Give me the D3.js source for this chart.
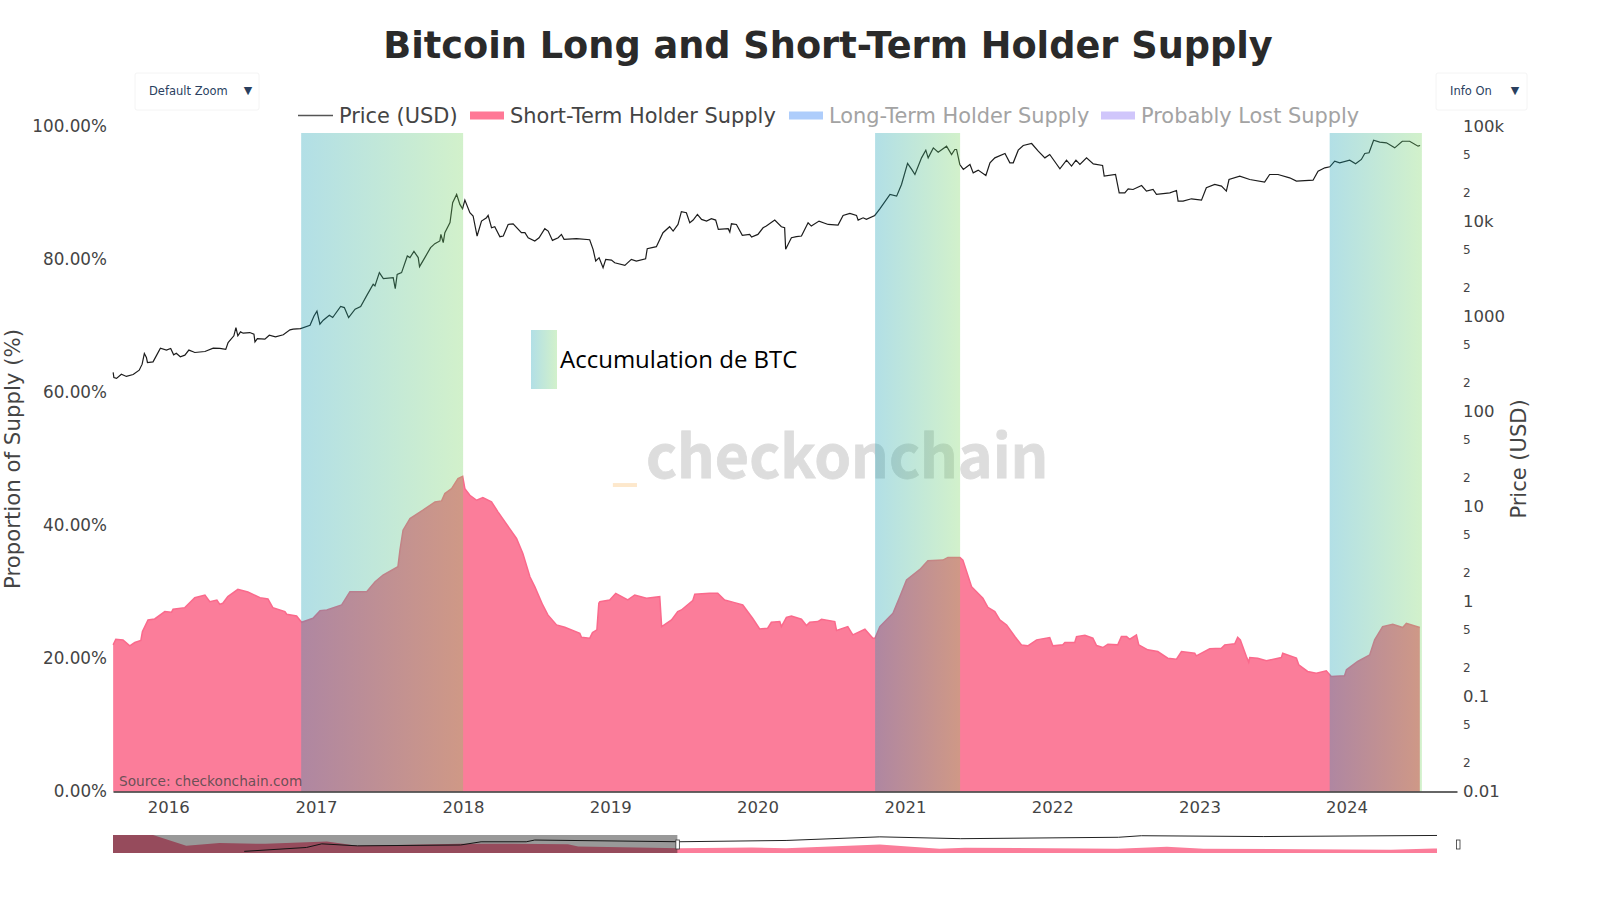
<!DOCTYPE html>
<html>

<head>
    <meta charset="UTF-8" />
    <script src="https://d3js.org/d3.v7.min.js"></script>
    <style>
        body { margin: 0; background: #fff; }
        text { font-family: "DejaVu Sans", sans-serif; }
    </style>
</head>

<body>
    <script>
        const pctTicks = [0, 20, 40, 60, 80, 100];
        const yearTicks = [2016, 2017, 2018, 2019, 2020, 2021, 2022, 2023, 2024];
        const priceTicks = [0.01, 0.1, 1, 10, 100, 1000, 10000, 100000];
        const priceLabels = ["0.01", "0.1", "1", "10", "100", "1000", "10k", "100k"];
        const priceMinor = [0.02, 0.05, 0.2, 0.5, 2, 5, 20, 50, 200, 500, 2000, 5000, 20000, 50000];

        // accumulation periods, as decimal years
        const bandStarts = [2016.900, 2020.797, 2023.885];
        const bandEnds = [2018.000, 2021.374, 2024.510];

        const supplyYears = [
            2015.625, 2015.643, 2015.692, 2015.738, 2015.772, 2015.813, 2015.824, 2015.862, 2015.907, 2015.976,
            2016.021, 2016.032, 2016.112, 2016.179, 2016.248, 2016.281, 2016.329, 2016.349, 2016.369, 2016.403,
            2016.471, 2016.539, 2016.621, 2016.675, 2016.708, 2016.790, 2016.802, 2016.869, 2016.903, 2016.980,
            2017.028, 2017.074, 2017.175, 2017.231, 2017.345, 2017.402, 2017.456, 2017.557, 2017.571, 2017.592,
            2017.639, 2017.727, 2017.809, 2017.854, 2017.876, 2017.922, 2017.965, 2017.997,
            2018.012, 2018.046, 2018.092, 2018.134, 2018.193, 2018.237, 2018.363, 2018.406, 2018.454, 2018.487,
            2018.541, 2018.576, 2018.635, 2018.691, 2018.793, 2018.804, 2018.860, 2018.879, 2018.909, 2018.922,
            2018.929, 2018.996,
            2019.037, 2019.119, 2019.166, 2019.246, 2019.336, 2019.349, 2019.416, 2019.458, 2019.483, 2019.560,
            2019.574, 2019.675, 2019.730, 2019.777, 2019.845, 2019.900, 2019.967,
            2020.015, 2020.069, 2020.094, 2020.151, 2020.162, 2020.196, 2020.230, 2020.298, 2020.332, 2020.354,
            2020.409, 2020.434, 2020.524, 2020.536, 2020.612, 2020.646, 2020.728, 2020.782, 2020.796, 2020.829,
            2020.918, 2020.965, 2021.010,
            2021.101, 2021.155, 2021.257, 2021.291, 2021.373, 2021.393, 2021.452, 2021.529, 2021.563, 2021.610,
            2021.644, 2021.690, 2021.746, 2021.791, 2021.834, 2021.894, 2021.983, 2022.004,
            2022.072, 2022.086, 2022.153, 2022.165, 2022.222, 2022.276, 2022.301, 2022.344, 2022.378, 2022.445,
            2022.470, 2022.505, 2022.527, 2022.572, 2022.588, 2022.649, 2022.717, 2022.785, 2022.844, 2022.878,
            2022.968, 2022.979,
            2023.070, 2023.149, 2023.172, 2023.240, 2023.260, 2023.278, 2023.319, 2023.335, 2023.342, 2023.396,
            2023.455, 2023.557, 2023.566, 2023.659, 2023.675, 2023.735, 2023.794, 2023.862, 2023.896, 2023.986,
            2023.999, 2024.075, 2024.157, 2024.190, 2024.244, 2024.313, 2024.380, 2024.405, 2024.496
        ];
        const supplyPct = [
            22.05, 22.9, 22.8, 21.9, 22.4, 22.7, 24.05, 25.8, 25.95, 27.05,
            26.95, 27.4, 27.65, 29.15, 29.55, 28.55, 28.8, 28.15, 28.3, 29.3,
            30.4, 30.0, 29.15, 28.95, 27.65, 27.05, 26.65, 26.4, 25.45, 26.05,
            27.2, 27.3, 28.05, 30.05, 30.05, 31.55, 32.55, 33.8, 36.3, 39.3,
            41.05, 42.3, 43.55, 43.7, 44.8, 45.55, 47.05, 47.4,
            45.55, 44.55, 43.8, 44.2, 43.55, 42.05, 38.05, 35.8, 32.3, 30.8,
            28.05, 26.55, 25.05, 24.7, 23.8, 23.2, 23.05, 23.9, 24.3, 28.3,
            28.55, 28.8,
            29.8, 28.8, 29.55, 29.05, 29.3, 24.8, 25.8, 27.05, 27.3, 28.7,
            29.65, 29.8, 29.8, 28.8, 28.4, 28.05, 26.05,
            24.45, 24.55, 25.45, 25.55, 24.8, 26.2, 26.4, 25.9, 24.95, 25.45,
            25.55, 25.9, 25.55, 24.2, 24.8, 23.55, 24.4, 23.05, 23.05, 24.8,
            26.8, 29.3, 31.8,
            33.4, 34.7, 34.8, 35.2, 35.2, 34.8, 30.8, 29.05, 27.7, 27.05,
            25.8, 25.05, 23.3, 22.05, 21.9, 22.8, 23.15, 21.9,
            22.05, 22.4, 22.4, 23.3, 23.5, 23.05, 21.95, 21.65, 22.15, 22.05,
            23.3, 23.3, 22.9, 23.55, 22.05, 21.3, 21.05, 20.05, 19.9, 21.05,
            20.8, 20.4,
            21.45, 21.55, 22.05, 22.2, 23.2, 22.8, 20.3, 19.45, 20.15, 20.05,
            19.65, 20.15, 20.8, 20.05, 19.05, 18.05, 17.8, 18.15, 17.3, 17.4,
            18.3, 19.55, 20.55, 22.8, 24.8, 25.15, 24.65, 25.3, 24.65
        ];

        const priceYears = [
            2015.625, 2015.630, 2015.648, 2015.681, 2015.715, 2015.761, 2015.802, 2015.822, 2015.837, 2015.851,
            2015.858, 2015.896, 2015.918, 2015.946, 2015.987,
            2016.016, 2016.036, 2016.054, 2016.081, 2016.112, 2016.139, 2016.168, 2016.179, 2016.248, 2016.304,
            2016.349, 2016.389, 2016.405, 2016.444, 2016.458, 2016.471, 2016.489, 2016.507, 2016.552, 2016.580,
            2016.587, 2016.603, 2016.654, 2016.684, 2016.726, 2016.779, 2016.824, 2016.846, 2016.896, 2016.960,
            2016.987,
            2017.007, 2017.027, 2017.050, 2017.091, 2017.114, 2017.168, 2017.193, 2017.222, 2017.266, 2017.304,
            2017.344, 2017.389, 2017.401, 2017.431, 2017.458, 2017.525, 2017.539, 2017.552, 2017.582, 2017.621,
            2017.639, 2017.666, 2017.695, 2017.704, 2017.740, 2017.779, 2017.808, 2017.842, 2017.849, 2017.865,
            2017.876, 2017.911, 2017.929, 2017.956, 2017.978, 2017.996,
            2018.012, 2018.046, 2018.068, 2018.095, 2018.125, 2018.159, 2018.170, 2018.193, 2018.215, 2018.250,
            2018.273, 2018.306, 2018.340, 2018.396, 2018.420, 2018.442, 2018.487, 2018.516, 2018.555, 2018.578,
            2018.607, 2018.646, 2018.668, 2018.686, 2018.770, 2018.860, 2018.883, 2018.901, 2018.924, 2018.951,
            2018.969, 2019.008,
            2019.030, 2019.099, 2019.143, 2019.177, 2019.240, 2019.251, 2019.313, 2019.358, 2019.403, 2019.427,
            2019.460, 2019.483, 2019.517, 2019.540, 2019.563, 2019.592, 2019.620, 2019.654, 2019.687, 2019.716,
            2019.734, 2019.801, 2019.812, 2019.823, 2019.857, 2019.897, 2019.947, 2019.960, 2020.003,
            2020.038, 2020.060, 2020.117, 2020.162, 2020.184, 2020.191, 2020.207, 2020.230, 2020.264, 2020.298,
            2020.343, 2020.365, 2020.417, 2020.479, 2020.546, 2020.580, 2020.626, 2020.671, 2020.682, 2020.716,
            2020.738, 2020.795, 2020.829, 2020.898, 2020.943, 2020.976, 2021.017,
            2021.045, 2021.067, 2021.112, 2021.141, 2021.157, 2021.192, 2021.225, 2021.282, 2021.316, 2021.338,
            2021.350, 2021.372, 2021.396, 2021.441, 2021.463, 2021.497, 2021.549, 2021.577, 2021.610, 2021.679,
            2021.712, 2021.735, 2021.769, 2021.803, 2021.860, 2021.905, 2021.950, 2021.983,
            2022.052, 2022.097, 2022.131, 2022.161, 2022.188, 2022.233, 2022.279, 2022.342, 2022.353, 2022.430,
            2022.455, 2022.493, 2022.516, 2022.549, 2022.607, 2022.640, 2022.685, 2022.708, 2022.799, 2022.844,
            2022.855, 2022.889, 2022.946, 2023.014,
            2023.047, 2023.104, 2023.150, 2023.183, 2023.201, 2023.274, 2023.342, 2023.443, 2023.477, 2023.534,
            2023.613, 2023.659, 2023.772, 2023.806, 2023.852, 2023.886, 2023.919, 2023.953, 2024.021,
            2024.061, 2024.100, 2024.123, 2024.152, 2024.183, 2024.224, 2024.270, 2024.326, 2024.377, 2024.427,
            2024.484, 2024.498
        ];
        const priceUsd = [
            258, 228, 223, 247, 234, 245, 272, 315, 408, 371,
            328, 333, 385, 464, 443,
            461, 395, 411, 377, 392, 443, 425, 418, 428, 464,
            461, 450, 532, 626, 765, 626, 689, 667, 678, 652,
            541, 586, 577, 635, 611, 642, 723, 735, 746, 809,
            1014,
            1138, 830, 914, 1032, 975, 1274, 1242, 975, 1194, 1274,
            1648, 2183, 2099, 2897, 2506, 2565, 1968, 2780, 2897, 4335,
            4169, 4853, 4169, 3350, 4169, 5309, 5848, 6237, 7328, 5984,
            7621, 9727, 15776, 19275, 15136, 13646,
            16827, 12388, 11429, 7031, 10116, 10965, 11588, 8590, 8810, 6918,
            7031, 9311, 9462, 7621, 7621, 6745, 6223, 6745, 8395, 7925,
            6324, 6745, 7311, 6486, 6592, 6427, 5093, 3837, 4159, 3266,
            3990, 3926,
            3681, 3451, 3990, 3837, 4055, 5176, 5433, 7621, 8810, 7925,
            9311, 12677, 12359, 9705, 10351, 11885, 10520, 10093, 10691, 10351,
            8260, 8395, 7745, 9462, 9311, 7145, 7311, 6855, 7311,
            8590, 8954, 10351, 8810, 8590, 5093, 5741, 6745, 6918, 7031,
            9705, 8954, 10093, 9311, 9162, 11588, 12162, 11588, 10351, 10940,
            10520, 11588, 13614, 19275, 18493, 24547, 40832,
            35318, 31261, 46774, 56364, 46774, 59566, 53703, 62087, 50699, 57280,
            57280, 39811, 35318, 39811, 32509, 34754, 30479, 41495, 46774, 52000,
            41495, 41495, 56364, 63096, 66222, 54954, 46774, 50699,
            35892, 44259, 38282, 44259, 39811, 46774, 40458, 38905, 29992, 31261,
            20045, 20045, 22080, 21727, 23933, 20893, 21727, 19275, 20045, 21232,
            16406, 16406, 17338, 16788,
            22646, 24547, 23550, 20893, 27669, 29992, 27669, 25942, 31261, 31261,
            28840, 26607, 27227, 33884, 36728, 37670, 43152, 41495, 44259,
            40458, 44978, 52000, 52845, 71779, 68391, 67298, 59566, 69984, 69984,
            62087, 63096
        ];

        // whole history for the range slider
        const miniSupplyYears = [2009.0, 2009.47, 2009.86, 2010.25, 2010.79, 2011.51, 2011.87, 2013.08, 2013.68, 2014.34, 2014.46, 2015.65, 2016.5, 2016.9, 2018.0, 2018.7, 2019.0, 2020.0, 2020.79, 2021.37, 2021.8, 2023.0, 2024.0, 2024.5, 2024.54];
        const miniSupplyPct = [100, 100, 40, 55, 51, 64, 40, 51, 51, 49, 36, 27, 30, 26, 47, 24, 29, 26, 24, 35, 23, 21, 18, 25, 25];
        const miniPriceYears = [2010.54, 2011.27, 2011.45, 2011.87, 2013.08, 2013.32, 2013.85, 2013.95, 2015.65, 2016.9, 2018.0, 2018.95, 2020.8, 2021.07, 2022.5, 2024.54];
        const miniPriceUsd = [0.044, 1.4, 36, 6, 13, 230, 230, 1100, 240, 750, 19000, 3700, 13000, 52000, 25000, 66000];

        const width = 1600;
        const height = 900;

        function yearToDate(y) {
            const whole = Math.floor(y);
            const start = Date.UTC(whole, 0, 1);
            return new Date(start + (y - whole) * (Date.UTC(whole + 1, 0, 1) - start));
        }

        const svg = d3.select("body")
            .append("svg")
            .attr("width", width)
            .attr("height", height);

        const x = d3.scaleUtc()
            .domain([yearToDate(2015.624), yearToDate(2024.748)])
            .range([113, 1457]);

        const yPct = d3.scaleLinear()
            .domain([0, 100])
            .range([791.5, 126.5]);

        const yPrice = d3.scaleLog()
            .domain([0.01, 100000])
            .range([791.5, 126.5]);

        const defs = svg.append("defs");

        const grad = defs.append("linearGradient")
            .attr("id", "bandGrad")
            .attr("x1", "0%")
            .attr("x2", "100%");
        grad.append("stop").attr("offset", "0%").attr("stop-color", "rgb(14,155,177)").attr("stop-opacity", 0.32);
        grad.append("stop").attr("offset", "100%").attr("stop-color", "rgb(114,211,92)").attr("stop-opacity", 0.32);

        // watermark sits under everything else
        svg.append("text")
            .attr("x", 646)
            .attr("y", 478)
            .attr("font-size", 59)
            .attr("font-weight", 700)
            .style("font-family", '"Noto Sans CJK JP", sans-serif')
            .attr("fill", "#dddddd")
            .attr("stroke", "#dddddd")
            .attr("stroke-width", 0.8)
            .text("checkonchain");

        svg.append("text")
            .attr("x", 613)
            .attr("y", 478)
            .attr("font-size", 58)
            .attr("font-weight", 700)
            .style("font-family", '"Noto Sans", sans-serif')
            .attr("fill", "#fde8cc")
            .text("_");

        const supplyPoints = supplyYears.map(function (d, i) {
            return { date: yearToDate(d), value: supplyPct[i] };
        });
        const pricePoints = priceYears.map(function (d, i) {
            return { date: yearToDate(d), value: priceUsd[i] };
        });

        svg.append("path")
            .datum(supplyPoints)
            .attr("fill", "#fb7d9a")
            .attr("d", d3.area()
                .x(function (d) { return x(d.date); })
                .y0(yPct(0))
                .y1(function (d) { return yPct(d.value); }));

        svg.append("path")
            .datum(supplyPoints)
            .attr("fill", "none")
            .attr("stroke", "#fa6a8c")
            .attr("stroke-width", 1.5)
            .attr("d", d3.line()
                .x(function (d) { return x(d.date); })
                .y(function (d) { return yPct(d.value); }));

        svg.append("path")
            .datum(pricePoints)
            .attr("fill", "none")
            .attr("stroke", "#1c1c1c")
            .attr("stroke-width", 1.2)
            .attr("d", d3.line()
                .x(function (d) { return x(d.date); })
                .y(function (d) { return yPrice(d.value); }));

        // the shaded periods lie over the traces
        svg.selectAll(".band")
            .data(bandStarts)
            .join("rect")
            .attr("class", "band")
            .attr("x", function (d) { return x(yearToDate(d)); })
            .attr("y", 133)
            .attr("width", function (d, i) { return x(yearToDate(bandEnds[i])) - x(yearToDate(d)); })
            .attr("height", yPct(0) - 133)
            .attr("fill", "url(#bandGrad)");

        // axes
        const axisColor = "#444444";

        const xAxis = svg.append("g")
            .attr("transform", `translate(0,${yPct(0)})`)
            .call(d3.axisBottom(x)
                .tickValues(yearTicks.map(function (d) { return new Date(Date.UTC(d, 0, 1)); }))
                .tickFormat(d3.utcFormat("%Y"))
                .tickSize(0)
                .tickPadding(10));
        xAxis.select(".domain").attr("stroke", "#333").attr("stroke-width", 1.6);
        xAxis.selectAll("text").attr("font-size", 16.5).attr("fill", axisColor).style("font-family", '"DejaVu Sans"');

        const leftAxis = svg.append("g")
            .attr("transform", "translate(107,0)")
            .call(d3.axisLeft(yPct)
                .tickValues(pctTicks)
                .tickFormat(function (d) { return d.toFixed(2) + "%"; })
                .tickSize(0)
                .tickPadding(0));
        leftAxis.select(".domain").remove();
        leftAxis.selectAll("text").attr("font-size", 16.8).attr("fill", axisColor).style("font-family", '"DejaVu Sans"');

        const rightAxis = svg.append("g")
            .attr("transform", "translate(1463,0)")
            .call(d3.axisRight(yPrice)
                .tickValues(priceTicks)
                .tickFormat(function (d, i) { return priceLabels[i]; })
                .tickSize(0)
                .tickPadding(0));
        rightAxis.select(".domain").remove();
        rightAxis.selectAll("text").attr("font-size", 16.5).attr("fill", axisColor).style("font-family", '"DejaVu Sans"');

        const rightMinor = svg.append("g")
            .attr("transform", "translate(1463,0)")
            .call(d3.axisRight(yPrice)
                .tickValues(priceMinor)
                .tickFormat(function (d) { return String(d).replace(/[0.]/g, ""); })
                .tickSize(0)
                .tickPadding(0));
        rightMinor.select(".domain").remove();
        rightMinor.selectAll("text").attr("font-size", 12).attr("fill", axisColor).style("font-family", '"DejaVu Sans"');

        svg.append("text")
            .attr("transform", "translate(20,459) rotate(-90)")
            .attr("text-anchor", "middle")
            .attr("font-size", 21.3)
            .attr("fill", axisColor)
            .text("Proportion of Supply (%)");

        svg.append("text")
            .attr("transform", "translate(1526,459) rotate(-90)")
            .attr("text-anchor", "middle")
            .attr("font-size", 21)
            .attr("fill", axisColor)
            .text("Price (USD)");

        // title
        svg.append("text")
            .attr("x", 828)
            .attr("y", 58)
            .attr("text-anchor", "middle")
            .attr("font-size", 36.7)
            .attr("font-weight", 700)
            .attr("fill", "#2a2a2a")
            .text("Bitcoin Long and Short-Term Holder Supply");

        // legend
        const legendY = 115.5;
        svg.append("line")
            .attr("x1", 298).attr("x2", 333)
            .attr("y1", legendY).attr("y2", legendY)
            .attr("stroke", "#555").attr("stroke-width", 1.5);
        const legendSwatches = [[470, "#ff7896", 1], [789, "#aecdfb", 1], [1101, "#d0c6fb", 1]];
        legendSwatches.forEach(function (s) {
            svg.append("rect")
                .attr("x", s[0]).attr("y", legendY - 4)
                .attr("width", 34).attr("height", 8)
                .attr("fill", s[1]);
        });
        const legendTexts = [[339, "Price (USD)", "#444"], [510, "Short-Term Holder Supply", "#444"], [829, "Long-Term Holder Supply", "#a3a3a3"], [1141, "Probably Lost Supply", "#a3a3a3"]];
        legendTexts.forEach(function (t) {
            svg.append("text")
                .attr("x", t[0]).attr("y", legendY + 7)
                .attr("font-size", 20.9)
                .attr("fill", t[2])
                .text(t[1]);
        });

        // annotation box
        svg.append("rect")
            .attr("x", 531).attr("y", 330)
            .attr("width", 26).attr("height", 59)
            .attr("fill", "url(#bandGrad)");
        svg.append("text")
            .attr("x", 560).attr("y", 368)
            .attr("font-size", 24)
            .style("font-family", '"Open Sans", sans-serif')
            .attr("fill", "#000")
            .text("Accumulation de BTC");

        svg.append("text")
            .attr("x", 119).attr("y", 786)
            .attr("font-size", 13.7)
            .attr("fill", "#444")
            .attr("fill-opacity", 0.8)
            .text("Source: checkonchain.com");

        // dropdown buttons
        function menuButton(bx, bw, label, arrowX) {
            svg.append("rect")
                .attr("x", bx).attr("y", 73)
                .attr("width", bw).attr("height", 37)
                .attr("rx", 2)
                .attr("fill", "#fff")
                .attr("stroke", "#f4f4f4");
            svg.append("text")
                .attr("x", bx + 14).attr("y", 95)
                .attr("font-size", 11.5)
                .attr("fill", "#2a3f5f")
                .text(label);
            svg.append("text")
                .attr("x", arrowX).attr("y", 94)
                .attr("text-anchor", "middle")
                .attr("font-size", 11)
                .attr("fill", "#2a3f5f")
                .text("▼");
        }
        menuButton(135, 124, "Default Zoom", 248);
        menuButton(1436, 91, "Info On", 1515);

        // range slider
        const miniX = d3.scaleLinear().domain([2009, 2024.54]).range([113, 1437]);
        const miniYPct = d3.scaleLinear().domain([0, 100]).range([853, 835]);
        const miniYPrice = d3.scaleLog().domain([0.01, 100000]).range([853, 835]);

        svg.append("path")
            .datum(miniSupplyYears.map(function (d, i) { return [d, miniSupplyPct[i]]; }))
            .attr("fill", "#fb7d9a")
            .attr("d", d3.area()
                .x(function (d) { return miniX(d[0]); })
                .y0(miniYPct(0))
                .y1(function (d) { return miniYPct(d[1]); }));

        svg.append("path")
            .datum(miniPriceYears.map(function (d, i) { return [d, miniPriceUsd[i]]; }))
            .attr("fill", "none")
            .attr("stroke", "#222")
            .attr("stroke-width", 1)
            .attr("d", d3.line()
                .x(function (d) { return miniX(d[0]); })
                .y(function (d) { return miniYPrice(d[1]); }));

        svg.append("rect")
            .attr("x", miniX(2009)).attr("y", 835)
            .attr("width", miniX(2015.624) - miniX(2009)).attr("height", 18)
            .attr("fill", "#000")
            .attr("fill-opacity", 0.4);

        [miniX(2015.624), 1458].forEach(function (hx) {
            svg.append("rect")
                .attr("x", hx - 1.5).attr("y", 840)
                .attr("width", 3.5).attr("height", 9)
                .attr("fill", "#fff")
                .attr("stroke", "#333")
                .attr("stroke-width", 0.8);
        });
    </script>
</body>

</html>
